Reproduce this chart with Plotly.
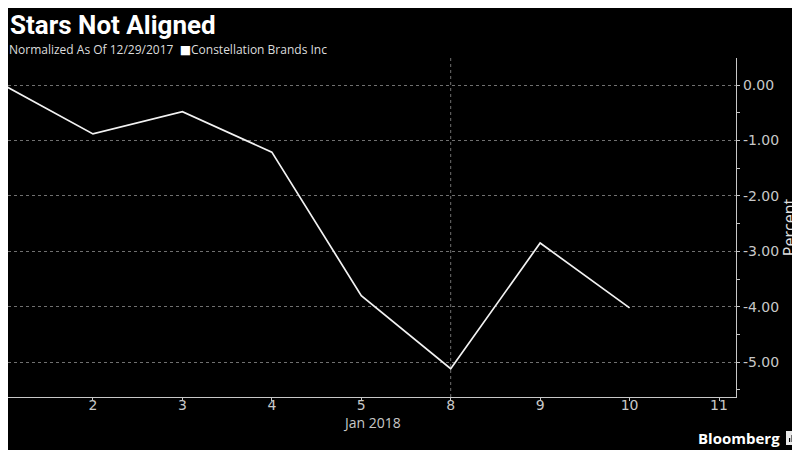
import plotly.graph_objects as go

# trading days, normalized to 12/29/2017
dates = ['Dec 29', 'Jan 2', 'Jan 3', 'Jan 4', 'Jan 5', 'Jan 8', 'Jan 9', 'Jan 10', 'Jan 11']
stz = [0.00, -0.88, -0.48, -1.21, -3.80, -5.12, -2.85, -4.02, None]
tick_labels = ['', '2', '3', '4', '5', '8', '9', '10', '11']
y_ticks = [0, -1, -2, -3, -4, -5]

xpos = list(range(len(dates)))
grey = '#c8c8c8'
font = 'Open Sans, DejaVu Sans'
tickfont = dict(family='DejaVu Sans', size=14, color=grey)

fig = go.Figure()
fig.add_trace(go.Scatter(
    x=xpos, y=stz, mode='lines', name='Constellation Brands Inc',
    line=dict(color='#f2f2f2', width=1.7),
    text=dates, hoverinfo='text+y'
))

# page body has an 8px margin, so the figure is a bit smaller than the window
fig.update_layout(
    width=792, height=442,
    paper_bgcolor='black', plot_bgcolor='black',
    margin=dict(l=0, r=64, t=50, b=53, pad=0),
    showlegend=False,
    font=dict(family=font, color=grey, size=14),
    xaxis=dict(
        range=[0.05, 8.19], tickmode='array', tickvals=xpos[1:], ticktext=tick_labels[1:],
        ticks='outside', ticklen=3, tickcolor=grey, showgrid=False,
        ticklabelstandoff=-8, tickfont=tickfont,
        showline=True, linecolor=grey, linewidth=1.2, zeroline=False,
    ),
    yaxis=dict(
        side='right', range=[-5.63, 0.49], tickmode='array', tickvals=y_ticks,
        ticktext=['%.2f' % v for v in y_ticks], tickfont=tickfont,
        ticks='outside', ticklen=3, tickcolor=grey,
        showline=True, linecolor=grey, linewidth=1.2, zeroline=False,
        showgrid=True, gridcolor='#707070', griddash='dot', gridwidth=1,
        minor=dict(tickvals=[v - 0.5 for v in y_ticks] + [0.5], ticks='outside',
                   ticklen=3, tickcolor=grey, showgrid=False),
        title=dict(text='Percent', font=dict(size=16, color='#e0e0e0'), standoff=4),
    ),
)

# vertical dotted line at the week break (Jan 8)
fig.add_vline(x=5, line=dict(color='#707070', width=1, dash='dot'))

fig.add_annotation(text='Jan 2018', xref='paper', yref='paper', x=0.5, y=0,
                   xanchor='center', yanchor='middle', yshift=-25, showarrow=False,
                   font=dict(size=14, color=grey, family=font))
fig.add_annotation(text='<b>Stars Not Aligned</b>', xref='paper', yref='paper',
                   x=0, y=1, xanchor='left', yanchor='top', yshift=50, xshift=0,
                   showarrow=False, font=dict(size=26, color='white', family='Roboto'))
fig.add_annotation(text='Normalized As Of 12/29/2017  <span style="color:white">■</span>Constellation Brands Inc',
                   xref='paper', yref='paper', x=0, y=1, xanchor='left', yanchor='middle',
                   yshift=9, xshift=-1, showarrow=False,
                   font=dict(size=12, color='#dddddd', family=font))
fig.add_annotation(text='<b>Bloomberg</b>', xref='paper', yref='paper', x=1, y=0,
                   xanchor='right', yanchor='middle', xshift=46, yshift=-41, showarrow=False,
                   font=dict(size=15, color='white', family=font))

# small logo box next to "Bloomberg"
fig.add_shape(type='rect', xref='paper', yref='paper', xanchor=1, yanchor=0,
              xsizemode='pixel', ysizemode='pixel', x0=50, x1=61, y0=-34, y1=-48,
              line=dict(width=0), fillcolor='#e8e8e8')
for bx, bh in [(53, 4), (55.5, 7), (58, 5)]:
    fig.add_shape(type='rect', xref='paper', yref='paper', xanchor=1, yanchor=0,
                  xsizemode='pixel', ysizemode='pixel', x0=bx, x1=bx + 1.2,
                  y0=-45, y1=-45 + bh, line=dict(width=0), fillcolor='black')

fig.write_html("out.html")
